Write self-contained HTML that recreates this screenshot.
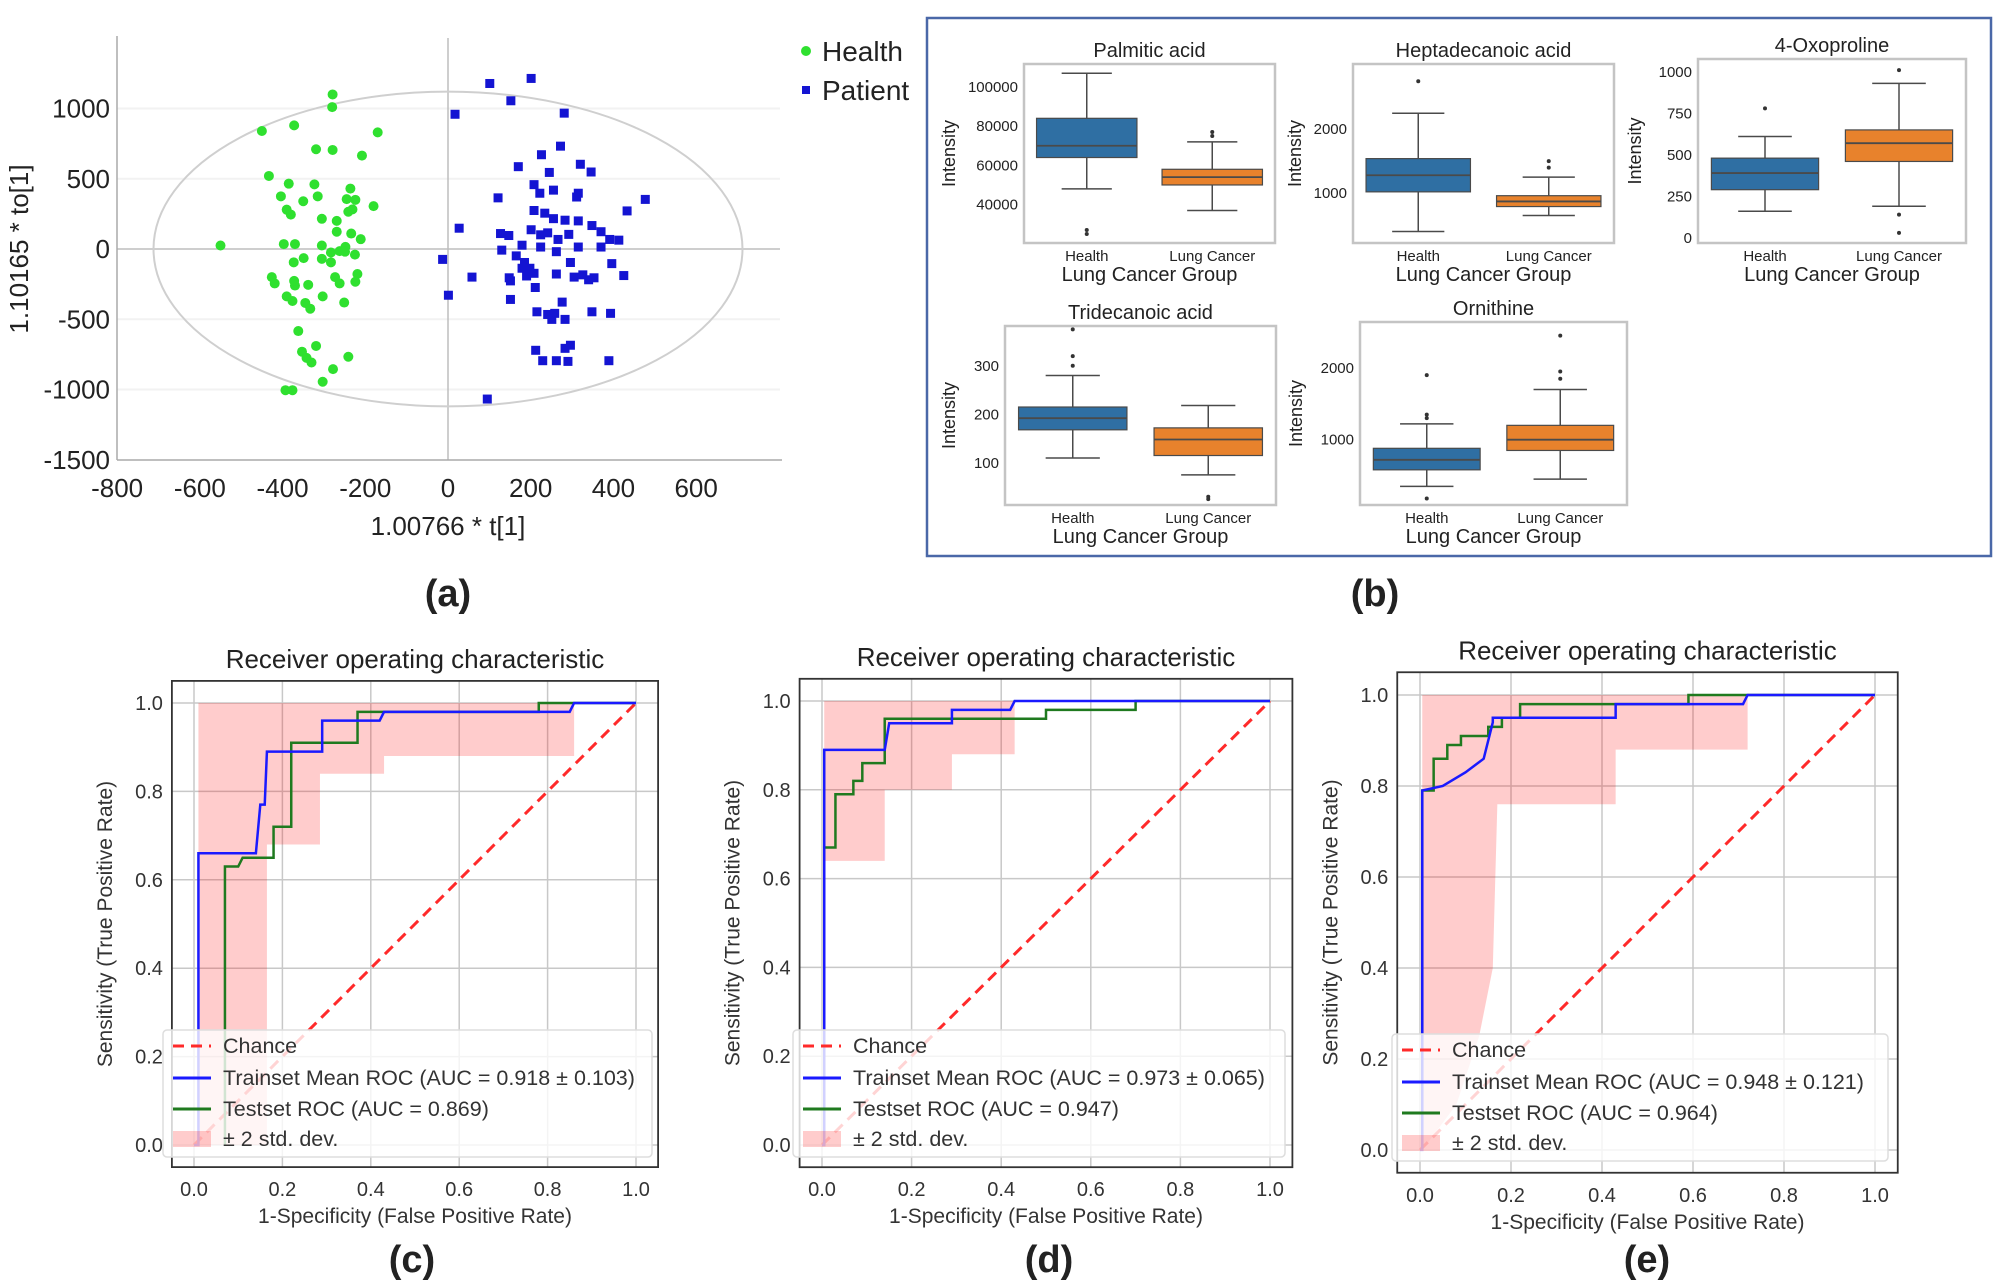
<!DOCTYPE html>
<html><head><meta charset="utf-8"><style>
html,body{margin:0;padding:0;background:#fff;}
svg{display:block;font-family:"Liberation Sans",sans-serif;}
</style></head><body>
<svg id="root" width="2006" height="1280" viewBox="0 0 2006 1280" xmlns="http://www.w3.org/2000/svg"></svg>
<script>
// ---------- Panel (a) data ----------
const healthX=[-279,-280,-450,-372,-170,-319,-279,-208,-433,-385,-323,-404,-350,-315,-236,-245,-224,-180,-390,-380,-241,-305,-269,-234,-211,-550,-397,-370,-305,-283,-262,-248,-305,-283,-349,-373,-225,-426,-419,-370,-338,-372,-273,-262,-219,-224,-390,-376,-345,-303,-333,-251,-362,-319,-353,-342,-330,-241,-278,-303,-393,-376,-249,-269,-231];
const healthY=[1100,1010,840,880,830,710,705,665,520,465,460,375,340,375,430,355,350,305,280,245,265,215,123,110,70,25,35,35,25,-25,-15,15,-70,-95,-65,-95,-40,-200,-245,-260,-255,-227,-200,-245,-178,-233,-337,-370,-384,-337,-425,-381,-584,-690,-731,-775,-808,-767,-855,-945,-1005,-1005,-19,200,282];
const patientX=[101,201,152,281,17,272,226,170,245,320,346,208,255,222,315,311,477,121,433,208,234,255,283,315,348,370,391,413,27,127,147,201,224,241,266,292,315,370,130,179,224,262,296,396,-13,165,185,198,208,179,190,58,148,151,262,305,326,340,353,425,1,211,151,276,215,241,258,283,348,393,251,212,229,262,290,283,296,389,95];
const patientY=[1178,1214,1055,967,959,732,671,586,545,603,548,458,419,397,397,370,353,364,271,274,255,216,205,200,167,123,68,63,148,110,96,137,101,115,68,104,14,14,-8,27,14,-19,-96,-104,-74,-49,-96,-137,-173,-137,-192,-200,-205,-227,-178,-200,-184,-219,-205,-189,-329,-274,-359,-378,-447,-466,-458,-501,-447,-458,-501,-721,-795,-795,-800,-707,-685,-795,-1068];
const scatterXTicks=[-800,-600,-400,-200,0,200,400,600];
const scatterYTicks=[1000,500,0,-500,-1000,-1500];

// ---------- Panel (b) data: [whiskerLow, Q1, median, Q3, whiskerHigh] ----------
const boxCategories=["Health","Lung Cancer"];
const palmiticHealth=[48000,64000,70000,84000,107000];
const palmiticCancer=[37000,50000,54000,58000,72000];
const palmiticHealthOut=[25000,27000];
const palmiticCancerOut=[75000,77000];
const palmiticTicks=[40000,60000,80000,100000];
const heptaHealth=[400,1020,1280,1540,2250];
const heptaCancer=[650,790,870,960,1250];
const heptaHealthOut=[2750];
const heptaCancerOut=[1400,1500];
const heptaTicks=[1000,2000];
const oxoHealth=[160,290,390,480,610];
const oxoCancer=[190,460,570,650,930];
const oxoHealthOut=[780];
const oxoCancerOut=[30,140,1010];
const oxoTicks=[0,250,500,750,1000];
const tridecaHealth=[110,168,192,215,280];
const tridecaCancer=[75,115,148,172,218];
const tridecaHealthOut=[300,320,375];
const tridecaCancerOut=[25,30];
const tridecaTicks=[100,200,300];
const ornHealth=[350,580,720,880,1220];
const ornCancer=[450,850,1000,1200,1700];
const ornHealthOut=[180,1300,1350,1900];
const ornCancerOut=[1850,1950,2450];
const ornTicks=[1000,2000];

// ---------- ROC data ----------
const rocTicks=[0,0.2,0.4,0.6,0.8,1.0];
const cTrainFpr=[0,0.01,0.01,0.14,0.15,0.15,0.16,0.165,0.29,0.29,0.42,0.43,0.85,0.86,1.0];
const cTrainTpr=[0,0,0.66,0.66,0.77,0.77,0.77,0.89,0.89,0.96,0.96,0.98,0.98,1.0,1.0];
const cTestFpr=[0.07,0.07,0.10,0.11,0.18,0.18,0.22,0.22,0.37,0.37,0.78,0.78,1.0];
const cTestTpr=[0,0.63,0.63,0.65,0.65,0.72,0.72,0.91,0.91,0.98,0.98,1.0,1.0];
const cBandX=[0.01,0.165,0.165,0.285,0.285,0.43,0.43,0.86];
const cBandLo=[0,0,0.68,0.68,0.84,0.84,0.88,0.88];
const cBandHi=[1,1,1,1,1,1,1,1];
const dTrainFpr=[0,0.005,0.005,0.14,0.15,0.29,0.29,0.42,0.43,1.0];
const dTrainTpr=[0,0,0.89,0.89,0.95,0.95,0.98,0.98,1.0,1.0];
const dTestFpr=[0,0.005,0.005,0.03,0.03,0.07,0.07,0.09,0.09,0.14,0.14,0.5,0.5,0.7,0.7,1.0];
const dTestTpr=[0,0,0.67,0.67,0.79,0.79,0.82,0.82,0.86,0.86,0.96,0.96,0.98,0.98,1.0,1.0];
const dBandX=[0.005,0.14,0.14,0.29,0.29,0.43];
const dBandLo=[0.64,0.64,0.80,0.80,0.88,0.88];
const dBandHi=[1,1,1,1,1,1];
const eTrainFpr=[0,0.005,0.005,0.05,0.1,0.14,0.16,0.16,0.43,0.43,0.71,0.72,1.0];
const eTrainTpr=[0,0,0.79,0.80,0.83,0.86,0.94,0.95,0.95,0.98,0.98,1.0,1.0];
const eTestFpr=[0.005,0.005,0.03,0.03,0.06,0.06,0.09,0.09,0.15,0.15,0.18,0.18,0.22,0.22,0.42,0.42,0.59,0.59,1.0];
const eTestTpr=[0,0.79,0.79,0.86,0.86,0.89,0.89,0.91,0.91,0.93,0.93,0.95,0.95,0.98,0.98,0.98,0.98,1.0,1.0];
const eBandX=[0.005,0.08,0.13,0.16,0.17,0.17,0.43,0.43,0.72];
const eBandLo=[0,0.1,0.25,0.4,0.76,0.76,0.76,0.88,0.88];
const eBandHi=[1,1,1,1,1,1,1,1,1];

const NS="http://www.w3.org/2000/svg";
const root=document.getElementById('root');
function mk(tag,attrs,name,parent){
  const el=document.createElementNS(NS,tag);
  for(const k in attrs) el.setAttribute(k,attrs[k]);
  
  
  (parent||root).appendChild(el);
  return el;
}
function txt(x,y,s,size,name,extra){
  const a=Object.assign({x:x,y:y,'font-size':size,fill:'#222'},extra||{});
  const t=mk('text',a,name);
  t.textContent=s;
  return t;
}

// ================= Panel (a) =================
const sx=v=>448+v*0.4136;
const sy=v=>249-v*0.1405;
scatterYTicks.forEach(v=>{ if(v!==0 && v!==-1500) mk('line',{x1:117,x2:780,y1:sy(v),y2:sy(v),stroke:'#f2f2f2','stroke-width':2},'scatter-gridline'); });
mk('line',{x1:sx(0),x2:sx(0),y1:38,y2:460,stroke:'#bdbdbd','stroke-width':1.5},'scatter-zero-vline');
mk('line',{x1:117,x2:780,y1:sy(0),y2:sy(0),stroke:'#bdbdbd','stroke-width':1.5},'scatter-zero-hline');
mk('line',{x1:117,x2:117,y1:36,y2:460,stroke:'#aaa','stroke-width':1.5},'scatter-y-axis');
mk('line',{x1:117,x2:782,y1:460,y2:460,stroke:'#aaa','stroke-width':1.5},'scatter-x-axis');
mk('ellipse',{cx:sx(0),cy:sy(0),rx:712*0.4136,ry:1120*0.1405,fill:'none',stroke:'#cfcfcf','stroke-width':2},'hotelling-ellipse');
scatterYTicks.forEach(v=>{ txt(110,sy(v)+9,String(v),26,'y-tick-label',{'text-anchor':'end'}); });
scatterXTicks.forEach(v=>{ txt(sx(v),497,String(v),26,'x-tick-label',{'text-anchor':'middle'}); });
txt(28,249,'1.10165 * to[1]',26,'y-axis-title',{'text-anchor':'middle',transform:'rotate(-90 28 249)'});
txt(448,535,'1.00766 * t[1]',26,'x-axis-title',{'text-anchor':'middle'});
healthX.forEach((v,i)=>{ mk('circle',{cx:sx(v),cy:sy(healthY[i]),r:5,fill:'#2fe02f'},'health-point'); });
patientX.forEach((v,i)=>{ mk('rect',{x:sx(v)-4.5,y:sy(patientY[i])-4.5,width:9,height:9,fill:'#1414d2'},'patient-point'); });
mk('circle',{cx:806,cy:51,r:5,fill:'#2fe02f'},'legend-health-marker');
txt(822,61,'Health',28,'legend-health-label');
mk('rect',{x:802,y:86,width:8,height:8,fill:'#1414d2'},'legend-patient-marker');
txt(822,100,'Patient',28,'legend-patient-label');
txt(448,606,'(a)',38,'panel-label-a',{'text-anchor':'middle','font-weight':'bold'});

// ================= Panel (b) =================
mk('rect',{x:927,y:18,width:1064,height:538,fill:'none',stroke:'#4a68a8','stroke-width':2.5},'panel-b-border');
txt(1375,606,'(b)',38,'panel-label-b',{'text-anchor':'middle','font-weight':'bold'});
function boxPlot(title,L,T,R,B,d0,d1,ticks,hs,cs,ho,co,ilx){
  const y=v=>B-(v-d0)/(d1-d0)*(B-T);
  const w=R-L;
  mk('rect',{x:L,y:T,width:w,height:B-T,fill:'#fff',stroke:'#c4c4c4','stroke-width':2.5},'boxplot-frame');
  txt((L+R)/2,T-7,title,20,'boxplot-title',{'text-anchor':'middle'});
  ticks.forEach(v=>{ txt(L-6,y(v)+5,String(v),15,'boxplot-y-tick',{'text-anchor':'end'}); });
  txt(ilx,(T+B)/2,'Intensity',18,'boxplot-y-title',{'text-anchor':'middle',transform:'rotate(-90 '+ilx+' '+((T+B)/2)+')'});
  const stats=[hs,cs], outs=[ho,co], cols=['#2f6fa3','#e8822c'];
  boxCategories.forEach((c,i)=>{
    const cx=L+w*(0.25+0.5*i), bw=w*0.4, s=stats[i];
    mk('line',{x1:cx,x2:cx,y1:y(s[0]),y2:y(s[1]),stroke:'#4a4a4a','stroke-width':1.5},'whisker-low');
    mk('line',{x1:cx,x2:cx,y1:y(s[3]),y2:y(s[4]),stroke:'#4a4a4a','stroke-width':1.5},'whisker-high');
    mk('line',{x1:cx-bw/4,x2:cx+bw/4,y1:y(s[0]),y2:y(s[0]),stroke:'#4a4a4a','stroke-width':1.5},'whisker-cap');
    mk('line',{x1:cx-bw/4,x2:cx+bw/4,y1:y(s[4]),y2:y(s[4]),stroke:'#4a4a4a','stroke-width':1.5},'whisker-cap');
    mk('rect',{x:cx-bw/2,y:y(s[3]),width:bw,height:y(s[1])-y(s[3]),fill:cols[i],stroke:'#4a4a4a','stroke-width':1.2},'box-'+(i?'cancer':'health'));
    mk('line',{x1:cx-bw/2,x2:cx+bw/2,y1:y(s[2]),y2:y(s[2]),stroke:'#4a4a4a','stroke-width':1.8},'median-line');
    outs[i].forEach(o=>{ mk('circle',{cx:cx,cy:y(o),r:2,fill:'#333'},'outlier'); });
    txt(cx,B+18,c,15,'category-label',{'text-anchor':'middle'});
  });
  txt((L+R)/2,B+38,'Lung Cancer Group',20,'boxplot-x-title',{'text-anchor':'middle'});
}
boxPlot('Palmitic acid',1024,64,1275,243,20400,111700,palmiticTicks,palmiticHealth,palmiticCancer,palmiticHealthOut,palmiticCancerOut,955);
boxPlot('Heptadecanoic acid',1353,64,1614,243,220,3020,heptaTicks,heptaHealth,heptaCancer,heptaHealthOut,heptaCancerOut,1301);
boxPlot('4-Oxoproline',1698,59,1966,243,-31,1077,oxoTicks,oxoHealth,oxoCancer,oxoHealthOut,oxoCancerOut,1641);
boxPlot('Tridecanoic acid',1005,326,1276,505,13,382,tridecaTicks,tridecaHealth,tridecaCancer,tridecaHealthOut,tridecaCancerOut,955);
boxPlot('Ornithine',1360,322,1627,505,90,2640,ornTicks,ornHealth,ornCancer,ornHealthOut,ornCancerOut,1302);

// ================= ROC panels =================
function roc(x0,x1,y1,y0,tr,trT,te,teT,bx,blo,bhi,labTrain,labTest,lbl,legL,legT,legR){
  const X=v=>x0+v*(x1-x0), Y=v=>y0-v*(y0-y1);
  const L=X(-0.05),R=X(1.05),T=Y(1.05),B=Y(-0.05);
  mk('rect',{x:L,y:T,width:R-L,height:B-T,fill:'#fff'},'roc-plot-bg');
  rocTicks.forEach(v=>{
    mk('line',{x1:X(v),x2:X(v),y1:T,y2:B,stroke:'#c8c8c8','stroke-width':1.5},'roc-grid-v');
    mk('line',{x1:L,x2:R,y1:Y(v),y2:Y(v),stroke:'#c8c8c8','stroke-width':1.5},'roc-grid-h');
    txt(X(v),B+29,v.toFixed(1),20,'roc-x-tick',{'text-anchor':'middle',fill:'#333'});
    txt(L-9,Y(v)+7,v.toFixed(1),20,'roc-y-tick',{'text-anchor':'end',fill:'#333'});
  });
  let pts=bx.map((v,i)=>X(v)+','+Y(bhi[i]));
  for(let i=bx.length-1;i>=0;i--) pts.push(X(bx[i])+','+Y(blo[i]));
  mk('polygon',{points:pts.join(' '),fill:'rgba(255,0,0,0.2)'},'std-dev-band');
  mk('line',{x1:X(0),y1:Y(0),x2:X(1),y2:Y(1),stroke:'#ff2a2a','stroke-width':3,'stroke-dasharray':'11,7'},'chance-line');
  mk('polyline',{points:te.map((v,i)=>X(v)+','+Y(teT[i])).join(' '),fill:'none',stroke:'#1f7a1f','stroke-width':2.5},'testset-roc-line');
  mk('polyline',{points:tr.map((v,i)=>X(v)+','+Y(trT[i])).join(' '),fill:'none',stroke:'#1a1aff','stroke-width':2.5},'trainset-roc-line');
  mk('rect',{x:L,y:T,width:R-L,height:B-T,fill:'none',stroke:'#333','stroke-width':1.8},'roc-frame');
  txt((L+R)/2,T-13,'Receiver operating characteristic',26,'roc-title',{'text-anchor':'middle'});
  txt((L+R)/2,B+56,'1-Specificity (False Positive Rate)',21,'roc-x-title',{'text-anchor':'middle',fill:'#333'});
  const yl=L-60, yc=(T+B)/2;
  txt(yl,yc,'Sensitivity (True Positive Rate)',21,'roc-y-title',{'text-anchor':'middle',fill:'#333',transform:'rotate(-90 '+yl+' '+yc+')'});
  mk('rect',{x:legL,y:legT,width:legR-legL,height:127,rx:4,fill:'rgba(255,255,255,0.8)',stroke:'#ddd','stroke-width':1.5},'roc-legend-box');
  const ys=[legT+16,legT+48,legT+79,legT+109];
  mk('line',{x1:legL+10,x2:legL+48,y1:ys[0],y2:ys[0],stroke:'#ff2a2a','stroke-width':3,'stroke-dasharray':'11,7'},'legend-chance-handle');
  mk('line',{x1:legL+10,x2:legL+48,y1:ys[1],y2:ys[1],stroke:'#1a1aff','stroke-width':3},'legend-train-handle');
  mk('line',{x1:legL+10,x2:legL+48,y1:ys[2],y2:ys[2],stroke:'#1f7a1f','stroke-width':3},'legend-test-handle');
  mk('rect',{x:legL+10,y:ys[3]-8,width:38,height:16,fill:'rgba(255,0,0,0.2)'},'legend-band-handle');
  txt(legL+60,ys[0]+7,'Chance',21.5,'legend-chance-label',{fill:'#333'});
  txt(legL+60,ys[1]+7,labTrain,21.5,'legend-train-label',{fill:'#333'});
  txt(legL+60,ys[2]+7,labTest,21.5,'legend-test-label',{fill:'#333'});
  txt(legL+60,ys[3]+7,'± 2 std. dev.',21.5,'legend-band-label',{fill:'#333'});
  txt(lbl[1],1272,lbl[0],38,'panel-label',{'text-anchor':'middle','font-weight':'bold'});
}
roc(194,636,703,1145,cTrainFpr,cTrainTpr,cTestFpr,cTestTpr,cBandX,cBandLo,cBandHi,'Trainset Mean ROC (AUC = 0.918 ± 0.103)','Testset ROC (AUC = 0.869)',['(c)',412],163,1030,652);
roc(822,1270,701,1145,dTrainFpr,dTrainTpr,dTestFpr,dTestTpr,dBandX,dBandLo,dBandHi,'Trainset Mean ROC (AUC = 0.973 ± 0.065)','Testset ROC (AUC = 0.947)',['(d)',1049],793,1030,1285);
roc(1420,1875,695,1150,eTrainFpr,eTrainTpr,eTestFpr,eTestTpr,eBandX,eBandLo,eBandHi,'Trainset Mean ROC (AUC = 0.948 ± 0.121)','Testset ROC (AUC = 0.964)',['(e)',1647],1392,1034,1888);
</script>
</body></html>
